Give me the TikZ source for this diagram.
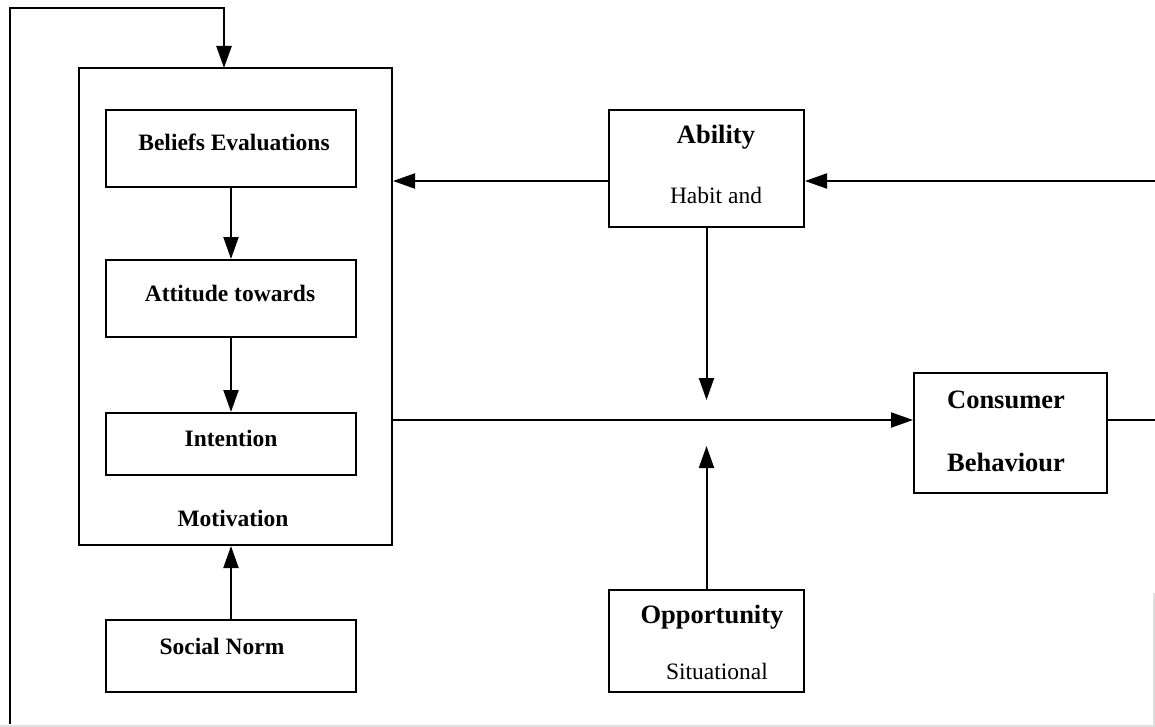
\documentclass[tikz,border=0pt]{standalone}
\usepackage{fontspec}
\setmainfont{Liberation Serif}
\usetikzlibrary{arrows.meta}
\begin{document}
\begin{tikzpicture}[x=1pt,y=-1pt,
  box/.style={draw,line width=2pt,inner sep=0pt},
  link/.style={line width=2pt},
  arr/.style={line width=2pt,-{Triangle[length=22pt,width=15pt]}},
  lbl/.style={font=\fontsize{23.5}{26}\selectfont\bfseries},
  big/.style={font=\fontsize{26.5}{30}\selectfont\bfseries},
  txt/.style={font=\fontsize{23.5}{26}\selectfont}]
\useasboundingbox (0,0) rectangle (1155,727);
\fill[white] (0,0) rectangle (1155,727);
% faint page border
\draw[gray!25,line width=1.5pt] (0,726) -- (1154,726) -- (1154,593);

% motivation block
\node[box,minimum width=313pt,minimum height=477pt] (mot) at (235.5,306.5) {};
\node[box,minimum width=250pt,minimum height=77pt] (bel) at (231,148.5) {};
\node[lbl] at (234,142) {Beliefs Evaluations};
\node[box,minimum width=250pt,minimum height=77pt] (att) at (231,298.5) {};
\node[lbl] at (230,293) {Attitude towards};
\node[box,minimum width=250pt,minimum height=62pt] (int) at (231,444) {};
\node[lbl] at (231,438) {Intention};
\node[lbl] (motl) at (233,518) {Motivation};

\node[box,minimum width=250pt,minimum height=72pt] (soc) at (231,656) {};
\node[lbl] at (222,646) {Social Norm};

% ability / opportunity / behaviour
\node[box,minimum width=195pt,minimum height=117pt] (abi) at (706.5,168.5) {};
\node[big] at (716,137) {Ability};
\node[txt] at (716,195) {Habit and};
\node[box,minimum width=195pt,minimum height=102pt] (opp) at (706.5,641) {};
\node[big] at (712,617) {Opportunity};
\node[txt] at (717,671) {Situational};
\node[box,minimum width=193pt,minimum height=120pt] (cb) at (1010.5,433) {};
\node[big] at (1006,400) {Consumer};
\node[big] at (1006,462) {Behaviour};

% connectors
\coordinate (fbBot) at (10,724);
\coordinate (fbTop) at (10,8);
\coordinate (rEnd) at (1155,420);
\coordinate (rTop) at (1155,181);
\coordinate (meetTop) at (706.5,400);
\coordinate (meetBot) at (706.5,446);

\draw[arr] (bel.south) -- (att.north);
\draw[arr] (att.south) -- (int.north);
\draw[arr] (soc.north) -- (soc.north |- mot.south);
\draw[arr] (abi.west |- rTop) -- (mot.east |- rTop);
\draw[arr] (rTop) -- (abi.east |- rTop);
\draw[arr] (abi.south) -- (meetTop);
\draw[arr] (opp.north) -- (meetBot);
\draw[arr] (mot.east |- rEnd) -- (cb.west |- rEnd);
\draw[link] (cb.east |- rEnd) -- (rEnd);
\draw[line width=2.5pt,-{Triangle[length=22pt,width=15pt]}]
  (fbBot) -- (fbTop) -- (fbTop -| 224,0) -- (224,68);
\end{tikzpicture}
\end{document}
